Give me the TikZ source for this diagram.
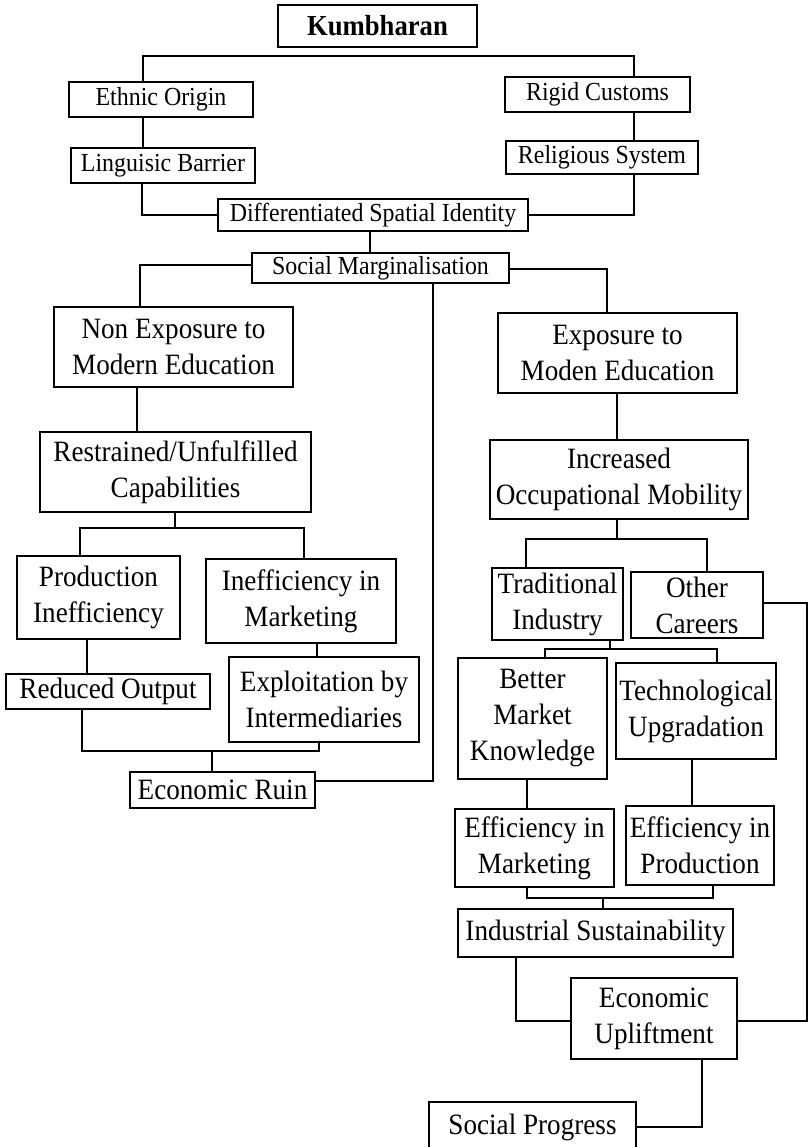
\documentclass[tikz,border=0pt]{standalone}
\usepackage{fontspec}
\setmainfont{Liberation Serif}[FakeStretch=0.92]
\newcommand{\smallsz}{\fontsize{26}{30}\selectfont}
\newcommand{\bigsz}{\fontsize{29.5}{36}\selectfont}

\begin{document}
\begin{tikzpicture}[x=1pt,y=-1pt,
    box/.style={draw,line width=2.2pt,inner sep=2pt,align=center,font=\smallsz},
    bigbox/.style={box,font=\bigsz},
    link/.style={line width=2.2pt}]
    \clip (0,0) rectangle (810,1147);
    \fill[white] (0,0) rectangle (810,1147);

    \node[box,font=\bfseries\fontsize{29}{30}\selectfont,minimum width=199pt,minimum height=42pt] (kumb) at (377.5,26) {Kumbharan};
    \node[box,minimum width=184pt,minimum height=35pt] (ethnic) at (161,99.5) {Ethnic Origin};
    \node[box,minimum width=185pt,minimum height=35pt] (rigid) at (597.5,94.5) {Rigid Customs};
    \node[box,minimum width=184pt,minimum height=35pt] (ling) at (163,165.5) {Linguisic Barrier};
    \node[box,minimum width=192pt,minimum height=33pt] (relig) at (602,157.5) {Religious System};
    \node[box,minimum width=310pt,minimum height=32pt] (diff) at (373,215) {Differentiated Spatial Identity};
    \node[box,minimum width=257pt,minimum height=30pt] (social) at (380.5,268) {Social Marginalisation};

    \node[bigbox,minimum width=239pt,minimum height=80pt] (nonexp) at (173.5,347) {Non Exposure to\\Modern Education};
    \node[bigbox,minimum width=271pt,minimum height=80pt] (restr) at (175.5,472) {Restrained/Unfulfilled\\Capabilities};
    \node[bigbox,minimum width=163pt,minimum height=83pt] (prodin) at (98.5,597.5) {Production\\Inefficiency};
    \node[bigbox,minimum width=190pt,minimum height=84pt] (inmkt) at (301,601) {Inefficiency in\\Marketing};
    \node[bigbox,minimum width=204pt,minimum height=35pt] (reduced) at (108,691.5) {Reduced Output};
    \node[bigbox,minimum width=190pt,minimum height=85pt] (exploit) at (324,699.5) {Exploitation by\\Intermediaries};
    \node[bigbox,minimum width=185pt,minimum height=36pt] (ruin) at (222.5,790) {Economic Ruin};

    \node[bigbox,minimum width=239pt,minimum height=80pt] (expo) at (617.5,353) {Exposure to\\Moden Education};
    \node[bigbox,minimum width=258pt,minimum height=79pt] (incr) at (619,479.5) {Increased\\Occupational Mobility};
    \node[bigbox,minimum width=131pt,minimum height=72pt] (trad) at (557.5,604) {Traditional\\Industry};
    \node[bigbox,minimum width=132pt,minimum height=66pt] (other) at (697,605) {Other\\Careers};
    \node[bigbox,minimum width=149pt,minimum height=121pt] (better) at (532.5,718.5) {Better\\Market\\Knowledge};
    \node[bigbox,minimum width=160pt,minimum height=96pt] (tech) at (696,711) {Technological\\Upgradation};
    \node[bigbox,minimum width=159pt,minimum height=78pt] (effmkt) at (534.5,848) {Efficiency in\\Marketing};
    \node[bigbox,minimum width=148pt,minimum height=79pt] (effprod) at (700,845.5) {Efficiency in\\Production};
    \node[bigbox,minimum width=275pt,minimum height=48pt] (indus) at (595.5,933) {Industrial Sustainability};
    \node[bigbox,minimum width=166pt,minimum height=81pt] (uplift) at (654,1018.5) {Economic\\Upliftment};
    \node[bigbox,minimum width=207pt,minimum height=50pt] (progress) at (532.5,1127) {Social Progress};

    \draw[link] (ethnic.north -| 143,0) -- (143,56) -- (634,56) -- (rigid.north -| 634,0);
    \draw[link] (ethnic.south -| 143,0) -- (ling.north -| 143,0);
    \draw[link] (rigid.south -| 634,0) -- (relig.north -| 634,0);
    \draw[link] (ling.south -| 142,0) |- (diff.west);
    \draw[link] (relig.south -| 634,0) |- (diff.east);
    \draw[link] (diff.south -| 370,0) -- (social.north -| 370,0);

    \draw[link] (social.west |- 0,265) -| (nonexp.north -| 140,0);
    \draw[link] (social.east |- 0,269) -| (expo.north -| 607,0);
    \draw[link] (social.south -| 433,0) -- (433,781) -- (ruin.east |- 0,781);

    \draw[link] (nonexp.south -| 137,0) -- (restr.north -| 137,0);
    \draw[link] (restr.south -| 175,0) -- (175,528);
    \draw[link] (prodin.north -| 80,0) -- (80,528) -- (304,528) -- (inmkt.north -| 304,0);
    \draw[link] (prodin.south -| 87,0) -- (reduced.north -| 87,0);
    \draw[link] (inmkt.south -| 317,0) -- (exploit.north -| 317,0);
    \draw[link] (reduced.south -| 82,0) -- (82,751) -- (319,751) -- (exploit.south -| 319,0);
    \draw[link] (212,751) -- (ruin.north -| 212,0);

    \draw[link] (expo.south -| 617,0) -- (incr.north -| 617,0);
    \draw[link] (incr.south -| 617,0) -- (617,539);
    \draw[link] (trad.north -| 526,0) -- (526,539) -- (707,539) -- (other.north -| 707,0);
    \draw[link] (other.east |- 0,603) -- (807,603) -- (807,1021) -- (uplift.east |- 0,1021);
    \draw[link] (trad.south -| 610,0) -- (610,649);
    \draw[link] (better.north -| 545,0) -- (545,649) -- (717,649) -- (tech.north -| 717,0);
    \draw[link] (better.south -| 527,0) -- (effmkt.north -| 527,0);
    \draw[link] (tech.south -| 692,0) -- (effprod.north -| 692,0);
    \draw[link] (effmkt.south -| 527,0) -- (527,898) -- (713,898) -- (effprod.south -| 713,0);
    \draw[link] (603,898) -- (indus.north -| 603,0);
    \draw[link] (indus.south -| 516,0) |- (uplift.west |- 0,1021);
    \draw[link] (uplift.south -| 702,0) |- (progress.east |- 0,1127);
\end{tikzpicture}
\end{document}
